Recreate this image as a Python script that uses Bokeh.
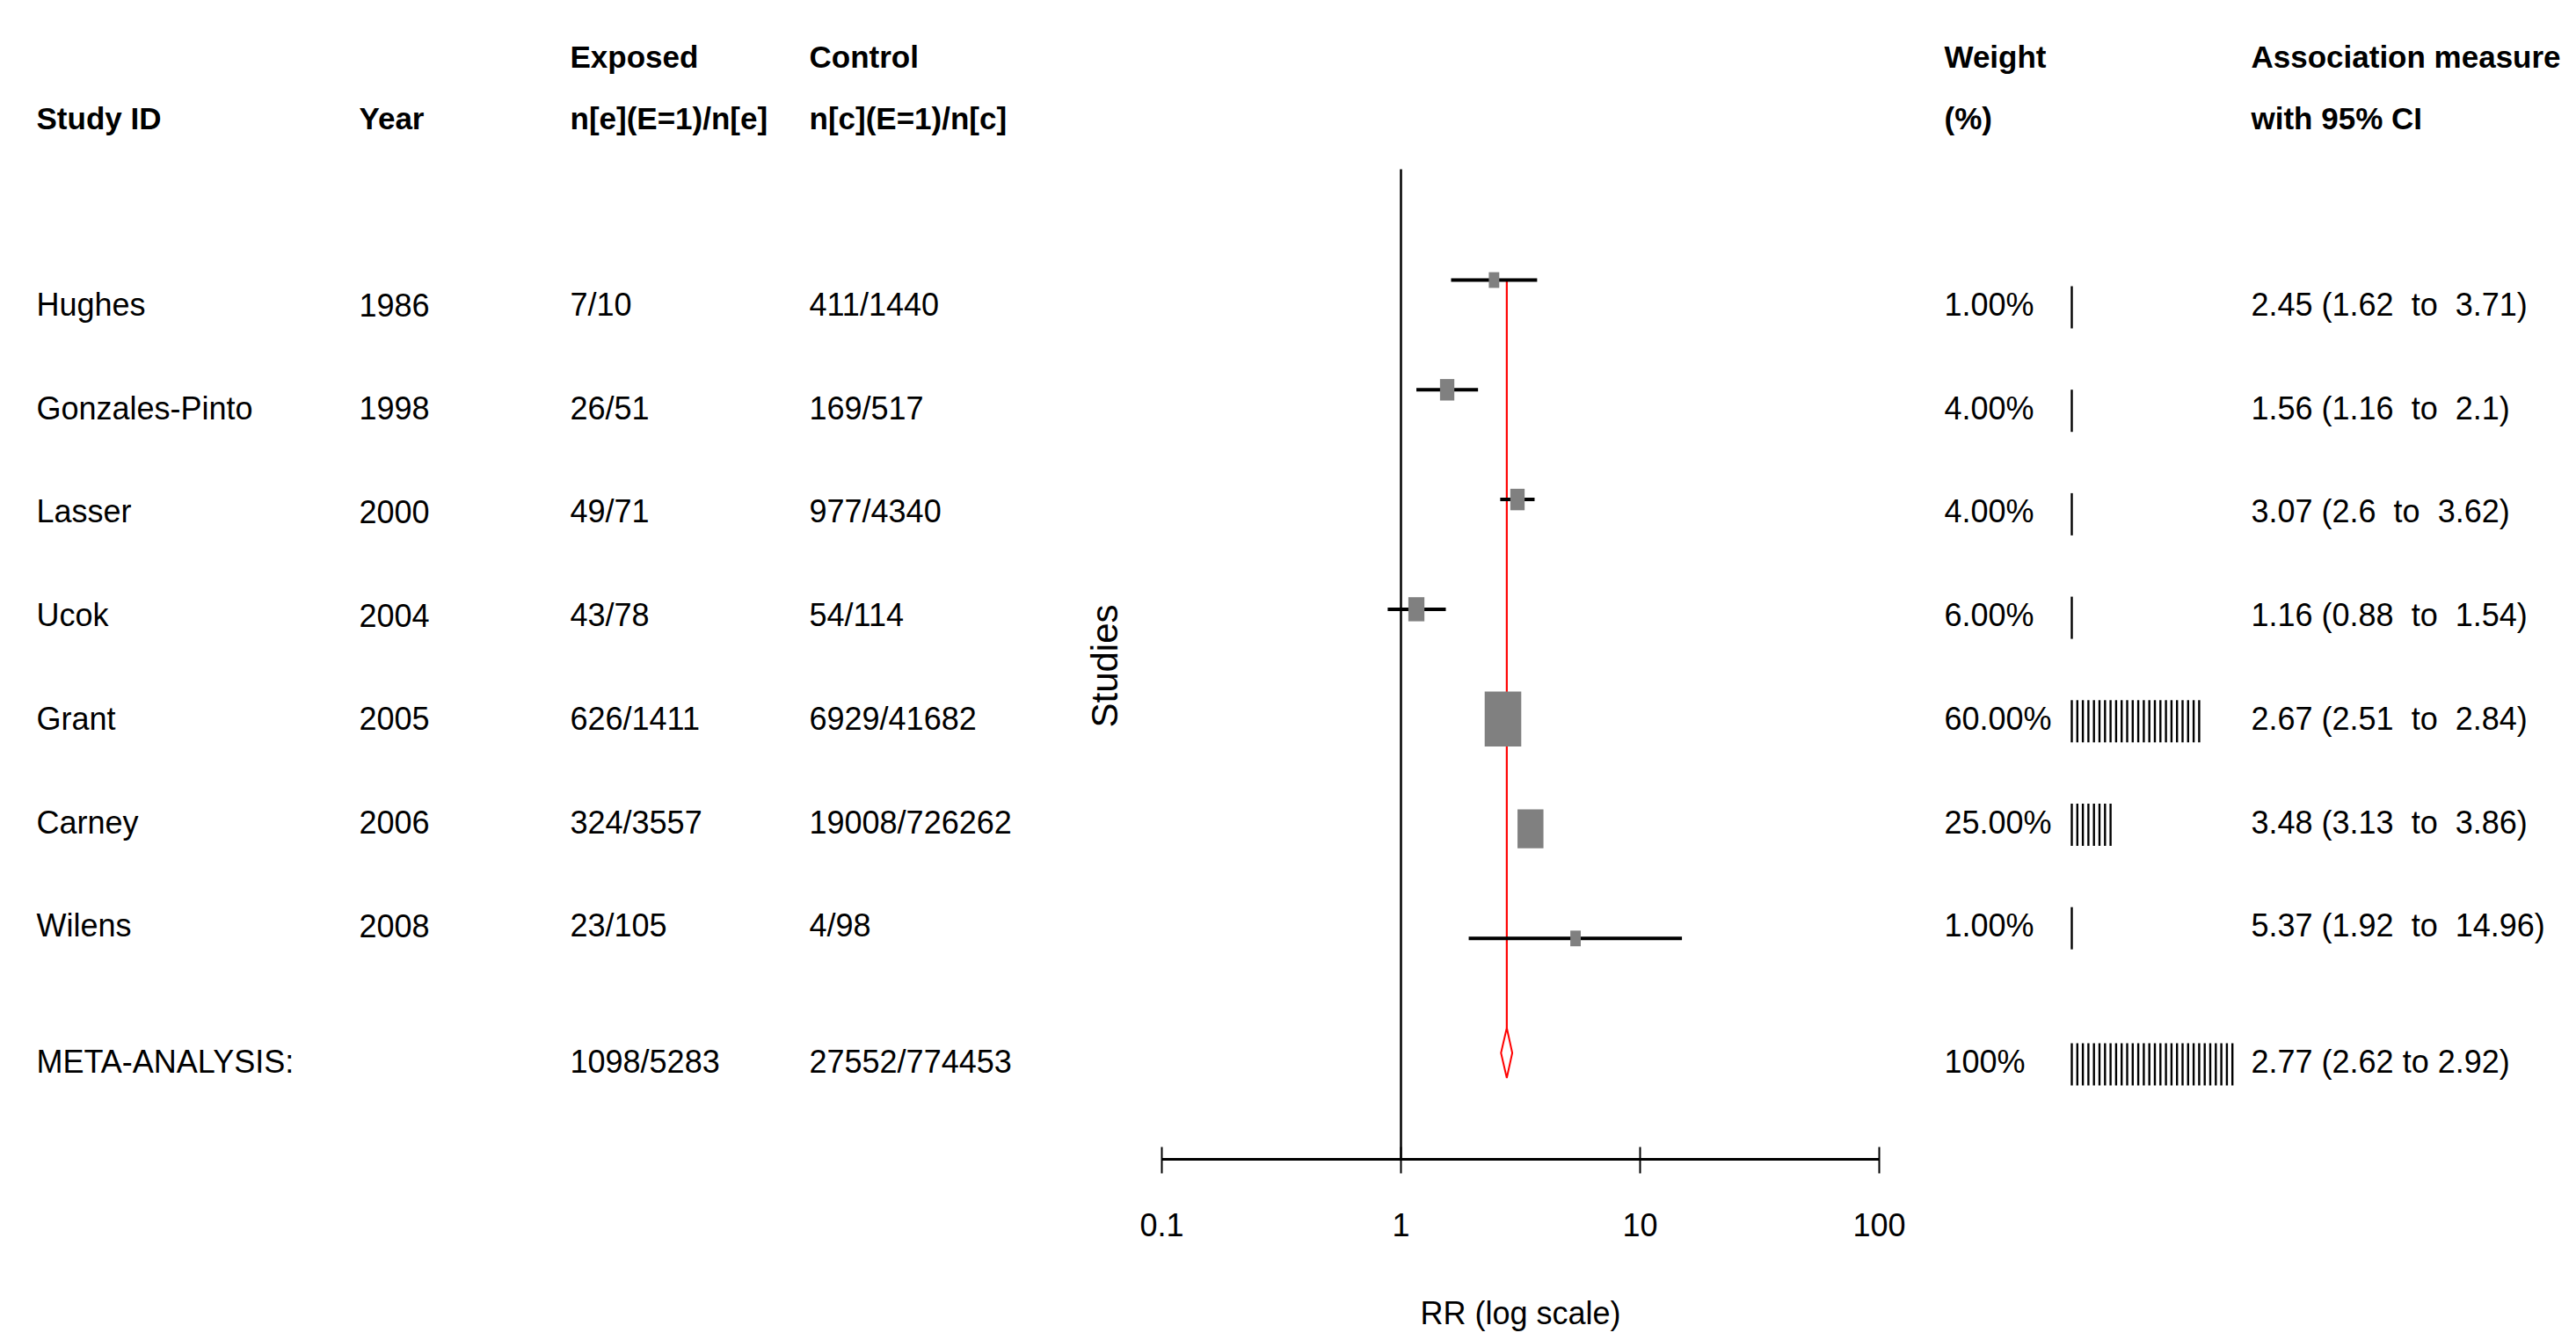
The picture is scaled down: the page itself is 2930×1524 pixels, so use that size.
import math
from bokeh.plotting import figure
from bokeh.layouts import row
from bokeh.models import Range1d, FixedTicker, CustomJSTickFormatter
from bokeh.core.properties import value
from bokeh.embed import file_html
from bokeh.resources import INLINE

# ---------------- data ----------------
study_ids = ["Hughes", "Gonzales-Pinto", "Lasser", "Ucok", "Grant", "Carney", "Wilens"]
years = ["1986", "1998", "2000", "2004", "2005", "2006", "2008"]
exposed = ["7/10", "26/51", "49/71", "43/78", "626/1411", "324/3557", "23/105"]
control = ["411/1440", "169/517", "977/4340", "54/114", "6929/41682", "19008/726262", "4/98"]
rr = [2.45, 1.56, 3.07, 1.16, 2.67, 3.48, 5.37]
rr_low = [1.62, 1.16, 2.6, 0.88, 2.51, 3.13, 1.92]
rr_high = [3.71, 2.1, 3.62, 1.54, 2.84, 3.86, 14.96]
weights = [1.0, 4.0, 4.0, 6.0, 60.0, 25.0, 1.0]
weight_bar_ticks = [1, 1, 1, 1, 24, 8, 1]

meta_label = "META-ANALYSIS:"
meta_exposed = "1098/5283"
meta_control = "27552/774453"
meta_rr, meta_low, meta_high = 2.77, 2.62, 2.92
meta_weight_label = "100%"
meta_bar_ticks = 30

left_header_top = ["", "", "Exposed", "Control"]
left_header_bottom = ["Study ID", "Year", "n[e](E=1)/n[e]", "n[c](E=1)/n[c]"]
right_header_top = ["Weight", "Association measure"]
right_header_bottom = ["(%)", "with 95% CI"]
axis_ticks = [0.1, 1, 10, 100]
axis_tick_labels = ["0.1", "1", "10", "100"]
null_value = 1
x_title = "RR (log scale)"
y_title = "Studies"

# ---------------- layout / style ----------------
H = 1524
FRAME_BOTTOM = 1318
LEFT_W, MID_W, RIGHT_W = 1290, 910, 730
MID_BORDER_L, MID_BORDER_R = 31, 63
FONT = "Liberation Sans"
FS = "36px"
HFS = "35px"

left_col_x = [41, 408, 648, 920]
right_col_x = [2211, 2560]
bars_x = 2356
bar_step = 6.3
bar_half = 24
header_y = [64, 134]
text_y0, text_dy = 346, 117.7
meta_text_y = 1207
plot_y0, plot_dy = 318, 124.8
meta_plot_y = 1197
diamond_half = 28.5
null_top = 192
studies_xy = (1256, 757)

text_rows = [text_y0 + i * text_dy for i in range(len(study_ids))]
plot_rows = [plot_y0 + i * plot_dy for i in range(len(study_ids))]


def base_fig(width, x_range, **kw):
    f = figure(width=width, height=H, x_range=x_range, y_range=Range1d(FRAME_BOTTOM, 0),
               output_backend="svg", toolbar_location=None, y_axis_location=None,
               outline_line_color=None, background_fill_color="white",
               border_fill_color="white", **kw)
    f.xgrid.visible = False
    f.ygrid.visible = False
    return f


def txt(f, xs, ys, labels, bold=False, size=FS):
    f.text(x=xs, y=ys, text=labels, text_font=value(FONT), text_font_size=size,
           text_font_style="bold" if bold else "normal", text_color="black",
           text_baseline="middle", text_align="left")


# ================= left table =================
left = base_fig(LEFT_W, Range1d(0, LEFT_W), x_axis_location=None,
                min_border=0, min_border_bottom=H - FRAME_BOTTOM)
hx = [x for x, t in zip(left_col_x, left_header_top) if t]
txt(left, hx, [header_y[0]] * len(hx), [t for t in left_header_top if t], bold=True, size=HFS)
txt(left, left_col_x, [header_y[1]] * len(left_col_x), left_header_bottom, bold=True, size=HFS)
for cx, col in zip(left_col_x, [study_ids, years, exposed, control]):
    txt(left, [cx] * len(col), text_rows, col)
txt(left, [left_col_x[0], left_col_x[2], left_col_x[3]], [meta_text_y] * 3,
    [meta_label, meta_exposed, meta_control])
left.text(x=[studies_xy[0]], y=[studies_xy[1]], text=[y_title], angle=math.pi / 2,
          text_font=value(FONT), text_font_size="42px", text_color="black",
          text_align="center", text_baseline="middle")

# ================= forest plot =================
mid = base_fig(MID_W, Range1d(axis_ticks[0], axis_ticks[-1]), x_axis_type="log",
               min_border_left=MID_BORDER_L, min_border_right=MID_BORDER_R,
               min_border_top=0, min_border_bottom=H - FRAME_BOTTOM)
ax = mid.xaxis[0]
ax.ticker = FixedTicker(ticks=axis_ticks)
ax.formatter = CustomJSTickFormatter(args=dict(t=axis_ticks, l=axis_tick_labels),
                                     code="const i = t.indexOf(tick); return i >= 0 ? l[i] : '';")
ax.axis_line_width = 3
ax.axis_line_color = "black"
ax.major_tick_line_width = 2
ax.major_tick_line_color = "black"
ax.major_tick_in = 14
ax.major_tick_out = 16
ax.minor_tick_line_color = None
ax.major_label_text_font = FONT
ax.major_label_text_font_size = FS
ax.major_label_text_color = "black"
ax.major_label_standoff = 45
ax.axis_label = x_title
ax.axis_label_text_font = FONT
ax.axis_label_text_font_size = FS
ax.axis_label_text_font_style = "normal"
ax.axis_label_text_color = "black"
ax.axis_label_standoff = 64

mid.segment(x0=[null_value], x1=[null_value], y0=[null_top], y1=[FRAME_BOTTOM],
            line_color="black", line_width=2.5)
mid.segment(x0=[meta_rr], x1=[meta_rr], y0=[plot_rows[0]], y1=[meta_plot_y - diamond_half],
            line_color="red", line_width=2.2)
mid.segment(x0=rr_low, x1=rr_high, y0=plot_rows, y1=plot_rows, line_color="black", line_width=4)
box_w = [7.5 + 4.4 * math.sqrt(w) for w in weights]
box_h = [1.5 * b for b in box_w]
mid.rect(x=rr, y=plot_rows, width=box_w, height=box_h, width_units="screen",
         height_units="screen", fill_color="#808080", line_color=None)
mid.patch(x=[meta_low, meta_rr, meta_high, meta_rr],
          y=[meta_plot_y, meta_plot_y - diamond_half, meta_plot_y, meta_plot_y + diamond_half],
          fill_alpha=0, line_color="red", line_width=2)

# ================= right table =================
r0 = LEFT_W + MID_W
right = base_fig(RIGHT_W, Range1d(r0, r0 + RIGHT_W), x_axis_location=None,
                 min_border=0, min_border_bottom=H - FRAME_BOTTOM)
txt(right, right_col_x, [header_y[0]] * 2, right_header_top, bold=True, size=HFS)
txt(right, right_col_x, [header_y[1]] * 2, right_header_bottom, bold=True, size=HFS)

weight_labels = [f"{w:.2f}%" for w in weights]
assoc_labels = [f"{m} ({a}\u00a0 to\u00a0 {b})" for m, a, b in zip(rr, rr_low, rr_high)]
for cx, col in zip(right_col_x, [weight_labels, assoc_labels]):
    txt(right, [cx] * len(col), text_rows, col)
txt(right, right_col_x, [meta_text_y] * 2,
    [meta_weight_label, f"{meta_rr} ({meta_low} to {meta_high})"])

bx, by0, by1 = [], [], []
for n, yr in zip(weight_bar_ticks + [meta_bar_ticks], text_rows + [meta_text_y]):
    for k in range(n):
        bx.append(bars_x + k * bar_step)
        by0.append(yr + 3 - bar_half)
        by1.append(yr + 3 + bar_half)
right.segment(x0=bx, x1=bx, y0=by0, y1=by1, line_color="black", line_width=2.4)

layout = row(left, mid, right, spacing=0)
open("out.html", "w").write(file_html(layout, INLINE))
